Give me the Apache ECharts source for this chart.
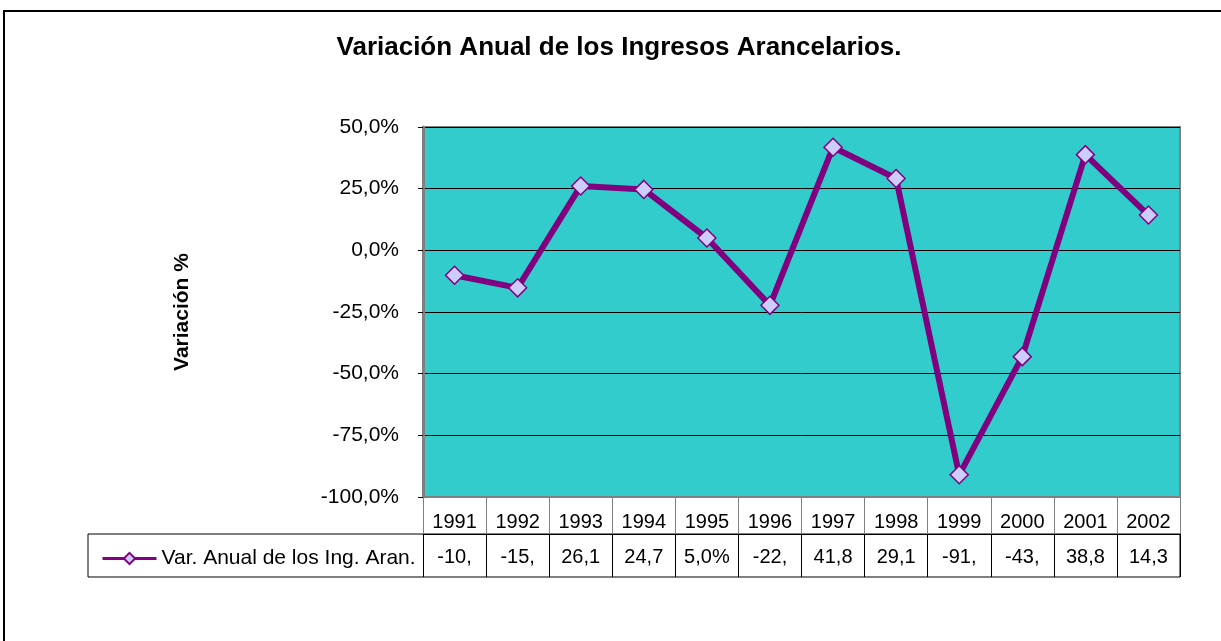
<!DOCTYPE html>
<html>
<head>
<meta charset="utf-8">
<script src="https://cdn.jsdelivr.net/npm/echarts@6/dist/echarts.min.js"></script>
<style>
  html, body { margin: 0; padding: 0; background: #fff; }
  #main { width: 1221px; height: 641px; }
</style>
</head>
<body>
<div id="main"></div>
<script>
// data
const years = ['1991', '1992', '1993', '1994', '1995', '1996', '1997', '1998', '1999', '2000', '2001', '2002'];
const variacion = [-10.1, -15.2, 26.1, 24.7, 5.0, -22.3, 41.8, 29.1, -91.0, -43.1, 38.8, 14.3];
const yTicks = [-100, -75, -50, -25, 0, 25, 50];
const seriesName = 'Var. Anual de los Ing. Aran.';

// the data table cells are too narrow, Excel cuts the text to 4 chars
const tableText = variacion.map(v => (v.toFixed(1) + '%').replace('.', ',').slice(0, 4));

const font = 'Arial, "Liberation Sans", sans-serif';

const myChart = echarts.init(document.getElementById('main'));
const chartOpts = {
  animation: false,
  title: {
    text: 'Variación Anual de los Ingresos Arancelarios.',
    left: 614,
    textAlign: 'center',
    top: 30,
    textStyle: { fontFamily: font, fontSize: 26, fontWeight: 'bold', color: '#000' }
  },
  legend: {
    left: 96,
    top: 543,
    itemWidth: 54,
    itemHeight: 14,
    itemGap: 4,
    lineStyle: { width: 3 },
    textStyle: { fontFamily: font, fontSize: 21, color: '#000' },
    data: [seriesName]
  },
  grid: {
    left: 423,
    top: 127,
    right: 41,
    bottom: 144,
    show: true,
    backgroundColor: '#33CCCC',
    borderColor: '#808080',
    borderWidth: 2
  },
  xAxis: [
    {
      type: 'category',
      data: years,
      boundaryGap: true,
      position: 'bottom',
      axisLine: { show: true, onZero: false, lineStyle: { color: '#808080', width: 2 } },
      axisTick: { show: true, alignWithLabel: false, interval: 0, length: 37, lineStyle: { color: '#808080', width: 1 } },
      axisLabel: { interval: 0, margin: 15, fontFamily: font, fontSize: 20, color: '#000' }
    },
    {
      type: 'category',
      data: tableText,
      boundaryGap: true,
      position: 'bottom',
      offset: 37,
      axisLine: { show: true, onZero: false, lineStyle: { color: '#000', width: 1 } },
      axisTick: { show: true, alignWithLabel: false, interval: 0, length: 43, lineStyle: { color: '#000', width: 1 } },
      axisLabel: { interval: 0, margin: 13, fontFamily: font, fontSize: 20, color: '#000' }
    }
  ],
  yAxis: {
    type: 'value',
    min: yTicks[0],
    max: yTicks[yTicks.length - 1],
    interval: 25,
    name: 'Variación %',
    nameLocation: 'middle',
    nameRotate: 90,
    nameGap: 230,
    nameTextStyle: { fontFamily: font, fontSize: 21, fontWeight: 'bold', color: '#000' },
    axisLine: { show: true, lineStyle: { color: '#808080', width: 3 } },
    axisTick: { show: true, length: 5, lineStyle: { color: '#000' } },
    axisLabel: {
      margin: 24,
      fontFamily: font,
      fontSize: 21,
      color: '#000',
      formatter: v => v.toFixed(1).replace('.', ',') + '%'
    },
    splitLine: { lineStyle: { color: '#000', width: 1 } }
  },
  series: [
    {
      name: seriesName,
      type: 'line',
      data: variacion,
      symbol: 'diamond',
      symbolSize: 18,
      lineStyle: { color: '#800080', width: 6 },
      itemStyle: { color: '#CCCCFF', borderColor: '#800080', borderWidth: 1.5 }
    }
  ],
  graphic: [
    {
      type: 'rect',
      shape: { x: 4, y: 11, width: 1230, height: 700 },
      style: { fill: null, stroke: '#000', lineWidth: 2 },
      silent: true
    },
    {
      type: 'rect',
      shape: { x: 88, y: 534, width: 1092, height: 43 },
      style: { fill: null, stroke: '#000', lineWidth: 1 },
      silent: true
    }
  ]
};
myChart.setOption(chartOpts);
</script>
</body>
</html>
